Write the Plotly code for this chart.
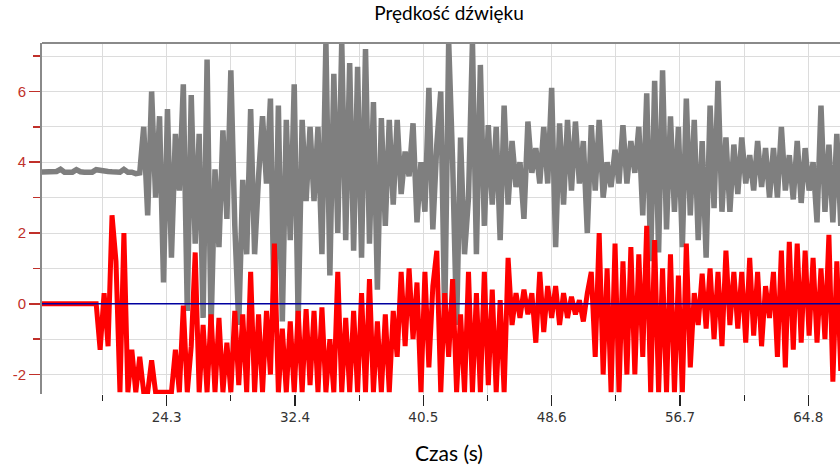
import numpy as np
import plotly.graph_objects as go

# sampling of both recorded series
t_start = 16.1
t_step = 0.25

# grey series: quiet part, then the oscillating part
gray_quiet = [3.72, 3.72, 3.72, 3.72, 3.72, 3.74, 3.80, 3.72, 3.72, 3.72,
              3.79, 3.73, 3.72, 3.72, 3.72, 3.79, 3.76, 3.74, 3.74, 3.73,
              3.72, 3.72, 3.80, 3.72, 3.72, 3.68]
gray_wave = [3.7, 5.0, 2.5, 6.0, 3.0, 5.3, 0.6, 5.5, 1.3, 4.8,
             3.2, 6.2, -0.2, 5.9, 1.7, 4.8, -0.4, 6.9, -0.7, 3.8,
             1.6, 4.9, 2.4, 6.6, 2.2, -0.6, 3.5, 1.4, 5.5, 1.4,
             3.6, 5.3, 3.4, 5.8, -0.7, 5.6, -0.5, 5.2, 1.8, 6.2,
             -0.5, 5.2, 2.9, 5.0, 2.9, 5.0, 1.4, 7.4, 0.8, 6.5,
             2.0, 7.4, 1.8, 6.8, 1.5, 6.7, 1.3, 7.2, 1.7, 5.7,
             0.4, 5.25, 2.2, 5.2, 2.8, 5.2, 3.1, 4.3, 3.6, 5.1,
             2.3, 4.0, 2.6, 6.1, 2.1, 4.5, 6.0, -0.5, 7.4, 4.0,
             -0.6, 4.7, 1.4, 3.0, 7.4, 1.4, 6.75, 2.2, 5.05, 2.8,
             5.0, 1.8, 5.6, 2.8, 4.6, 3.3, 4.0, 2.4, 5.15, 3.7,
             4.4, 3.4, 5.0, 3.4, 6.1, 1.6, 5.1, 2.8, 5.2, 3.2,
             5.15, 3.4, 4.6, 2.0, 5.05, 3.2, 5.2, 3.0, 4.0, 3.3,
             4.35, 3.4, 5.05, 3.4, 4.6, 3.7, 5.0, 2.5, 5.95, 1.2,
             6.3, 1.45, 6.6, 2.1, 5.3, 2.6, 5.0, 1.6, 5.8, 2.5,
             5.2, 1.8, 4.6, 1.3, 5.6, 2.7, 6.3, 2.6, 4.7, 2.6,
             4.5, 3.1, 4.7, 3.4, 4.2, 3.2, 4.6, 3.3, 4.4, 3.0,
             4.4, 3.0, 5.0, 3.2, 4.2, 2.95, 4.6, 2.85, 4.4, 3.2,
             4.0, 2.3, 5.6, 2.6, 4.5, 2.3, 4.8, 2.2, 4.4]

# red series
red_vals = [0.0, 0.0, 0.0, 0.0, 0.0, 0.0, 0.0, 0.0, 0.0, 0.0,
            0.0, 0.0, 0.0, 0.0, 0.0,
            0.0, -1.3, 0.3, -1.2, 2.5, 1.2, -2.5, 2.0, -2.5, -1.3,
            -2.5, -1.5, -2.5, -2.5, -1.6, -2.5, -2.5, -2.5, -2.5, -2.5,
            -1.3, -2.5, -0.05, -2.5, -1.2, 1.45, -2.5, -0.6, -2.5, -0.3,
            -2.5, -0.4, -2.5, -1.1, -2.5, -0.2, -2.3, -0.3, -2.5, 0.9,
            -2.5, -0.3, -2.5, -0.2, -2.0, 1.7, -2.5, -0.7, -2.5, -0.5,
            -2.5, -0.2, -2.5, -0.15, -2.3, -0.2, -2.5, -0.1, -2.5, -1.0,
            -2.5, 0.9, -2.5, -0.4, -2.5, -0.2, -2.5, 0.3, -2.5, 0.7,
            -2.5, -0.5, -2.5, -0.3, -2.5, -0.2, -1.5, 0.9, -1.2, 1.0,
            -1.0, 0.6, -2.5, 0.9, -1.8, 0.5, 1.5, -2.5, 0.3, -1.5,
            0.7, -2.5, -0.3, -2.5, 0.9, -2.5, 0.3, -2.5, 0.9, -2.3,
            0.4, -2.5, 0.1, -2.5, 1.3, -0.6, 0.3, -0.4, 0.4, -0.3,
            0.3, -1.1, 0.9, -0.8, 0.5, -0.4, 0.5, -0.6, 0.3, -0.4,
            0.2, -0.3, 0.1, -0.5, 0.3, 0.9, -1.5, 2.0, -2.0, 1.0,
            -2.5, 1.7, -2.5, 1.2, -2.0, 1.6, -2.0, 1.4, -1.5, 2.2,
            -2.5, 1.8, -2.5, 1.0, -2.5, 1.4, -2.5, 0.8, -2.5, 1.7,
            -1.8, 0.3, -0.6, 0.85, -0.7, 1.0, -1.0, 0.9, -1.2, 1.5,
            -0.6, 0.9, -0.7, 0.9, -1.1, 1.3, -0.9, 0.9, -1.2, 0.5,
            -0.4, 0.9, -1.5, 1.5, -1.8, 1.75, -1.3, 1.7, -1.1, 1.5,
            -0.9, 1.3, -1.1, 1.0, -1.0, 1.95, -2.2, 1.2, -1.9]

baseline_t = [16.0, 67.5]
baseline_v = [0.0, 0.0]

x_tick_vals = [24.3, 32.4, 40.5, 48.6, 56.7, 64.8]
x_tick_text = ["24.3", "32.4", "40.5", "48.6", "56.7", "64.8"]
y_tick_vals = [-2, 0, 2, 4, 6]
y_tick_text = ["-2", "0", "2", "4", "6"]

gray_vals = gray_quiet + gray_wave
gray_t = t_start + t_step * np.arange(len(gray_vals))
red_t = t_start + t_step * np.arange(len(red_vals))

W, H = 840, 466

fig = go.Figure()
fig.add_trace(go.Scatter(x=gray_t, y=gray_vals, mode="lines",
                         line=dict(color="#7f7f7f", width=5.5),
                         hoverinfo="skip", showlegend=False))
fig.add_trace(go.Scatter(x=red_t, y=red_vals, mode="lines",
                         line=dict(color="#ff0000", width=5),
                         hoverinfo="skip", showlegend=False))
fig.add_trace(go.Scatter(x=baseline_t, y=baseline_v, mode="lines",
                         line=dict(color="#0000a0", width=1.5),
                         hoverinfo="skip", showlegend=False))

fig.update_layout(
    width=W, height=H,
    margin=dict(l=42, r=0, t=43, b=72, autoexpand=False),
    paper_bgcolor="white", plot_bgcolor="white",
    hovermode=False,
    title=dict(text="Prędkość dźwięku", x=449 / W, xref="container",
               xanchor="center", y=1 - 13 / H, yanchor="middle",
               font=dict(family="Lato", size=19, color="#000000")),
    xaxis=dict(range=[16.43, 66.8], tickvals=x_tick_vals, ticktext=x_tick_text,
               automargin=False,
               ticks="outside", ticklen=11, tickwidth=1.2, tickcolor="#222222",
               showgrid=True, gridcolor="#dcdcdc", gridwidth=1,
               minor=dict(tick0=24.3, dtick=4.05, ticks="outside", ticklen=6,
                          tickcolor="#222222", showgrid=True, gridcolor="#dcdcdc"),
               zeroline=False, showline=False,
               tickfont=dict(family="DejaVu Sans", size=13.5, color="#333333")),
    yaxis=dict(range=[-2.55, 7.37], tickvals=y_tick_vals, ticktext=y_tick_text,
               automargin=False,
               ticks="outside", ticklen=11, tickwidth=1.5, tickcolor="#c0302a",
               showgrid=True, gridcolor="#dcdcdc", gridwidth=1,
               minor=dict(dtick=1, ticks="outside", ticklen=7, tickcolor="#c0302a",
                          showgrid=True, gridcolor="#dcdcdc"),
               zeroline=False, showline=True, linecolor="#8a8a8a", linewidth=2,
               tickfont=dict(family="Liberation Sans", size=15, color="#c0302a")),
    shapes=[dict(type="line", xref="paper", yref="paper", x0=0, x1=1, y0=1, y1=1,
                 line=dict(color="#8a8a8a", width=2))],
    annotations=[dict(text="Czas (s)", xref="paper", yref="paper",
                      x=(449 - 42) / 798, y=-(452 - 394) / 351,
                      xanchor="center", yanchor="middle", showarrow=False,
                      font=dict(family="Lato", size=21, color="#000000"))],
)

# remove the browser's default 8px page margin so the figure fills the window
fig.write_html("out.html",
               config={"displayModeBar": False, "staticPlot": True},
               post_script="document.body.style.margin='0';"
                           "document.body.style.overflow='hidden';")
